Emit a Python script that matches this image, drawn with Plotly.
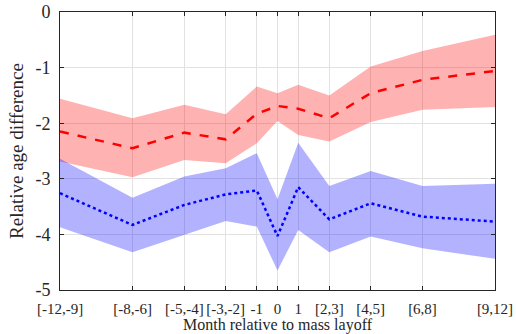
import plotly.graph_objects as go

x_pos = [-10.5, -7, -4.5, -2.5, -1, 0, 1, 2.5, 4.5, 7, 10.5]
x_labels = ["[-12,-9]", "[-8,-6]", "[-5,-4]", "[-3,-2]", "-1", "0", "1", "[2,3]", "[4,5]", "[6,8]", "[9,12]"]

red_mean = [-2.15, -2.45, -2.17, -2.29, -1.83, -1.69, -1.74, -1.91, -1.46, -1.22, -1.06]
red_upper = [-1.56, -1.91, -1.67, -1.84, -1.34, -1.46, -1.31, -1.50, -0.98, -0.70, -0.41]
red_lower = [-2.69, -2.97, -2.66, -2.72, -2.36, -1.96, -2.21, -2.33, -1.98, -1.76, -1.71]

blue_mean = [-3.26, -3.83, -3.47, -3.28, -3.21, -4.03, -3.15, -3.73, -3.44, -3.68, -3.77]
blue_upper = [-2.64, -3.34, -2.96, -2.81, -2.54, -3.37, -2.35, -3.13, -2.86, -3.13, -3.09]
blue_lower = [-3.87, -4.32, -4.01, -3.76, -3.86, -4.65, -3.92, -4.32, -4.04, -4.25, -4.44]

y_ticks = [0, -1, -2, -3, -4, -5]

fig = go.Figure()

def band(upper, lower, color):
    fig.add_trace(go.Scatter(
        x=x_pos + x_pos[::-1], y=upper + lower[::-1],
        fill="toself", fillcolor=color, line=dict(width=0),
        mode="lines", hoverinfo="skip", showlegend=False))

band(red_upper, red_lower, "rgba(255,0,0,0.3)")
band(blue_upper, blue_lower, "rgba(0,0,255,0.3)")

fig.add_trace(go.Scatter(x=x_pos, y=red_mean, mode="lines",
                         line=dict(color="#ff0000", width=2.5, dash="dash"), showlegend=False))
fig.add_trace(go.Scatter(x=x_pos, y=blue_mean, mode="lines",
                         line=dict(color="#0000ff", width=2.5, dash="dot"), showlegend=False))

font = "Liberation Serif"
fig.update_layout(
    width=516, height=334,
    margin=dict(l=60, r=21, t=12, b=44),
    paper_bgcolor="white", plot_bgcolor="white",
    font=dict(family=font, size=15, color="#262626"),
)
fig.update_xaxes(
    range=[-10.5, 10.5], tickvals=x_pos, ticktext=x_labels,
    showgrid=True, gridcolor="#e2e2e2", gridwidth=1,
    ticks="inside", ticklen=4, tickcolor="#262626",
    showline=True, linecolor="#262626", linewidth=1, mirror="allticks",
    zeroline=False, tickfont=dict(family=font, size=15), ticklabelstandoff=5,
    tickangle=0, automargin=False,
    title=dict(text="Month relative to mass layoff", font=dict(family=font, size=16), standoff=0),
)
fig.update_yaxes(
    range=[-5, 0], tickvals=y_ticks, ticktext=[str(v) for v in y_ticks],
    showgrid=True, gridcolor="#e2e2e2", gridwidth=1,
    ticks="inside", ticklen=4, tickcolor="#262626",
    showline=True, linecolor="#262626", linewidth=1, mirror="allticks",
    zeroline=False, tickfont=dict(family=font, size=18), ticklabelstandoff=5,
    automargin=False,
    title=dict(text="Relative age difference", font=dict(family=font, size=19), standoff=6),
)

fig.write_html("out.html", config={"displayModeBar": False},
               post_script="document.body.style.margin='0';document.body.style.overflow='hidden';")
